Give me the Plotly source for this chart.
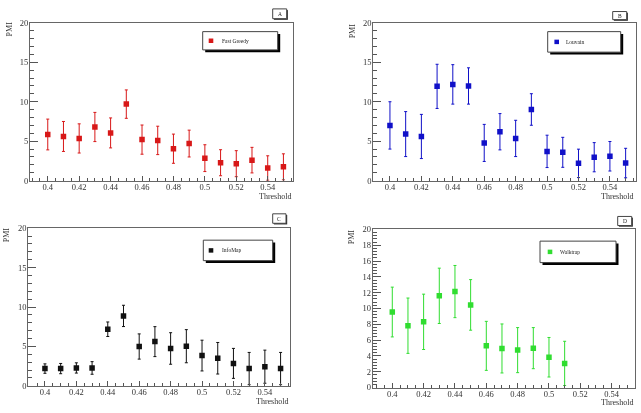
import plotly.graph_objects as go

W, H = 641, 413

# ---------------- data ----------------
thr_full = [0.40, 0.41, 0.42, 0.43, 0.44, 0.45, 0.46, 0.47, 0.48, 0.49, 0.50, 0.51, 0.52, 0.53, 0.54, 0.55]
thr_walk = [0.40, 0.41, 0.42, 0.43, 0.44, 0.45, 0.46, 0.47, 0.48, 0.49, 0.50, 0.51]

fast_greedy = [5.85, 5.6, 5.35, 6.8, 6.05, 9.7, 5.2, 5.1, 4.05, 4.7, 2.85, 2.27, 2.15, 2.6, 1.6, 1.75]
fast_greedy_err = [1.95, 1.9, 1.85, 1.85, 1.9, 1.8, 1.85, 1.8, 1.85, 1.7, 1.7, 1.65, 1.65, 1.62, 1.55, 1.65]

louvain = [7.0, 5.9, 5.6, 11.95, 12.2, 12.0, 4.78, 6.2, 5.35, 9.02, 3.71, 3.59, 2.19, 2.97, 3.09, 2.23]
louvain_err = [3.0, 2.85, 2.8, 2.8, 2.5, 2.3, 2.35, 2.3, 2.3, 2.0, 2.05, 1.9, 1.8, 1.85, 1.87, 1.87]

infomap = [2.19, 2.19, 2.27, 2.27, 7.18, 8.87, 4.99, 5.61, 4.74, 5.03, 3.84, 3.5, 2.85, 2.19, 2.43, 2.19]
infomap_err = [0.6, 0.65, 0.65, 0.8, 0.92, 1.35, 1.6, 1.9, 2.0, 2.1, 1.95, 2.0, 1.9, 2.05, 2.1, 2.05]

walktrap = [9.55, 7.82, 8.31, 11.6, 12.14, 10.45, 5.27, 4.94, 4.73, 4.98, 3.83, 3.05]
walktrap_err = [3.15, 3.5, 3.5, 3.5, 3.3, 3.2, 3.1, 3.1, 2.85, 2.6, 2.5, 2.8]

names = ["Fast Greedy", "Louvain", "InfoMap", "Walktrap"]
letters = ["A", "B", "C", "D"]
x_title = "Threshold"
y_title = "PMI"

# ---------------- layout geometry (pixels) ----------------
panels = [
    dict(x=thr_full, y=fast_greedy, e=fast_greedy_err, color="#d81818",
         box=(30, 18.3, 293, 180), xr=(0.3887, 0.5561), ydt=5, ymin=1,
         leg=(202.7, 27.3, 277.7, 46), mk=211, tx=219.5,
         let=(272.7, 4, 286.7, 14), pmi=(9, 25), thr=(292.5, 196)),
    dict(x=thr_full, y=louvain, e=louvain_err, color="#1010c8",
         box=(373.3, 18.3, 636, 180), xr=(0.3894, 0.5566), ydt=5, ymin=1,
         leg=(547.7, 27.3, 620.7, 48.3), mk=556.7, tx=564,
         let=(612.7, 6.7, 626.7, 15), pmi=(352, 27), thr=(635, 196)),
    dict(x=thr_full, y=infomap, e=infomap_err, color="#111111",
         box=(28.3, 228.7, 290, 390.3), xr=(0.3894, 0.5560), ydt=5, ymin=1,
         leg=(203.3, 241, 272.7, 262), mk=211, tx=219.5,
         let=(272.7, 214, 286, 223.7), pmi=(6, 236), thr=(290, 406)),
    dict(x=thr_walk, y=walktrap, e=walktrap_err, color="#30dd30",
         box=(372.7, 230, 635, 392), xr=(0.3875, 0.5549), ydt=2, ymin=0.4,
         leg=(540, 242, 616, 264), mk=550, tx=558,
         let=(617.7, 216.7, 631.7, 226), pmi=(351, 238), thr=(635, 407)),
]

FONT = "Liberation Serif, Times New Roman, serif"


def px(x):
    return x / W


def py(y):
    return 1 - y / H


fig = go.Figure()
shapes = []
annotations = []
layout_axes = {}

for i, p in enumerate(panels):
    n = i + 1
    xa = "x" if n == 1 else f"x{n}"
    ya = "y" if n == 1 else f"y{n}"
    fig.add_trace(go.Scatter(
        x=p["x"], y=p["y"], mode="markers", xaxis=xa, yaxis=ya,
        name=names[i], showlegend=False,
        marker=dict(symbol="square", size=5.5, color=p["color"]),
        error_y=dict(type="data", array=p["e"], visible=True,
                     color=p["color"], thickness=1, width=1.5),
    ))
    x0, y0, x1, y1 = p["box"]
    xkey = "xaxis" if n == 1 else f"xaxis{n}"
    ykey = "yaxis" if n == 1 else f"yaxis{n}"
    layout_axes[xkey] = dict(
        domain=[px(x0), px(x1)], anchor=ya, range=list(p["xr"]),
        showgrid=False, zeroline=False, showline=True, linecolor="#666",
        linewidth=1, mirror=True, ticks="inside", ticklen=5, tickwidth=1,
        tickcolor="#555", dtick=0.02, tick0=0.4, ticklabelstandoff=-2,
        tickfont=dict(family=FONT, size=8.5, color="#333"),
        minor=dict(ticks="inside", ticklen=2.5, dtick=0.005, tick0=0.4,
                   tickcolor="#555", showgrid=False),
    )
    layout_axes[ykey] = dict(
        domain=[py(y1), py(y0)], anchor=xa, range=[0, 20],
        showgrid=False, zeroline=False, showline=True, linecolor="#666",
        linewidth=1, mirror=True, ticks="inside", ticklen=8, tickwidth=1,
        tickcolor="#555", dtick=p["ydt"], tick0=0, ticklabelstandoff=-1,
        tickfont=dict(family=FONT, size=8.5, color="#333"),
        minor=dict(ticks="inside", ticklen=4, dtick=p["ymin"], tick0=0,
                   tickcolor="#555", showgrid=False),
    )

    # legend box with shadow
    lx0, ly0, lx1, ly1 = p["leg"]
    shapes.append(dict(type="rect", xref="paper", yref="paper",
                       x0=px(lx0 + 2.5), x1=px(lx1 + 2.5),
                       y0=py(ly1 + 2.5), y1=py(ly0 + 2.5),
                       fillcolor="black", line=dict(width=0)))
    shapes.append(dict(type="rect", xref="paper", yref="paper",
                       x0=px(lx0), x1=px(lx1), y0=py(ly1), y1=py(ly0),
                       fillcolor="white", line=dict(color="#444", width=1)))
    cy = (ly0 + ly1) / 2
    shapes.append(dict(type="rect", xref="paper", yref="paper",
                       x0=px(p["mk"] - 2.3), x1=px(p["mk"] + 2.3),
                       y0=py(cy + 2.3), y1=py(cy - 2.3),
                       fillcolor=p["color"], line=dict(width=0)))
    annotations.append(dict(xref="paper", yref="paper", x=px(p["tx"]), y=py(cy),
                            xanchor="left", yanchor="middle", showarrow=False,
                            text=names[i],
                            font=dict(family=FONT, size=5.5, color="#222")))

    # letter box
    bx0, by0, bx1, by1 = p["let"]
    shapes.append(dict(type="rect", xref="paper", yref="paper",
                       x0=px(bx0 + 1.2), x1=px(bx1 + 1.2),
                       y0=py(by1 + 1.2), y1=py(by0 + 1.2),
                       fillcolor="#333", line=dict(width=0)))
    shapes.append(dict(type="rect", xref="paper", yref="paper",
                       x0=px(bx0), x1=px(bx1), y0=py(by1), y1=py(by0),
                       fillcolor="white", line=dict(color="#444", width=1)))
    annotations.append(dict(xref="paper", yref="paper",
                            x=px((bx0 + bx1) / 2), y=py((by0 + by1) / 2),
                            xanchor="center", yanchor="middle", showarrow=False,
                            text=letters[i],
                            font=dict(family=FONT, size=5.5, color="#222")))

    # axis titles
    annotations.append(dict(xref="paper", yref="paper",
                            x=px(p["pmi"][0]), y=py(p["pmi"][1]),
                            xanchor="center", yanchor="middle", showarrow=False,
                            text=y_title, textangle=-90,
                            font=dict(family=FONT, size=8, color="#333")))
    annotations.append(dict(xref="paper", yref="paper",
                            x=px(p["thr"][0]), y=py(p["thr"][1]),
                            xanchor="right", yanchor="middle", showarrow=False,
                            text=x_title,
                            font=dict(family=FONT, size=8, color="#333")))

fig.update_layout(
    width=W, height=H, autosize=False,
    margin=dict(l=0, r=0, t=0, b=0),
    paper_bgcolor="white", plot_bgcolor="white",
    shapes=shapes, annotations=annotations,
    font=dict(family=FONT),
    **layout_axes,
)

fig.write_html(
    "out.html",
    config={"displayModeBar": False, "staticPlot": True},
    post_script=(
        "document.body.style.margin='0px';"
        "document.body.style.padding='0px';"
        "document.body.style.overflow='hidden';"
        "document.querySelectorAll('.plotly-graph-div').forEach(function(d){d.style.willChange='transform';});"
    ),
)
